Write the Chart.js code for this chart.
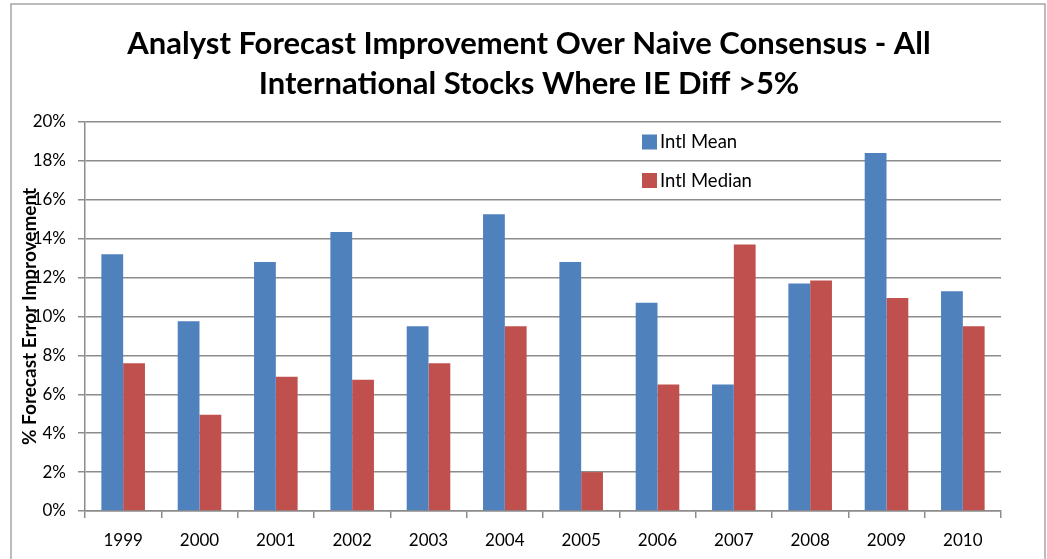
<!DOCTYPE html>
<html>
<head>
<meta charset="utf-8">
<title>Analyst Forecast Improvement</title>
<script src="https://cdn.jsdelivr.net/npm/chart.js@4/dist/chart.umd.min.js"></script>
<style>
  html, body { margin: 0; padding: 0; background: #fff; }
  #wrap { position: relative; width: 1047px; height: 559px; }
</style>
</head>
<body>
<div id="wrap"><canvas id="chart" width="1047" height="559"></canvas></div>
<script>
// years on the x axis
const years = ['1999','2000','2001','2002','2003','2004','2005','2006','2007','2008','2009','2010'];
// % forecast error improvement
const intlMean   = [13.2, 9.75, 12.8, 14.35, 9.5, 15.25, 12.8, 10.7, 6.5, 11.7, 18.4, 11.3];
const intlMedian = [7.6, 4.95, 6.9, 6.75, 7.6, 9.5, 2.0, 6.5, 13.7, 11.85, 10.95, 9.5];
const seriesNames = ['Intl Mean', 'Intl Median'];

const FONT = 'Lato, "Open Sans", "DejaVu Sans", sans-serif';
const GRID = '#8c8c8c';

// outer frame like the spreadsheet chart border
const framePlugin = {
  id: 'frame',
  beforeDraw(chart){
    const c = chart.ctx;
    c.save();
    c.fillStyle = '#fff';
    c.fillRect(0, 0, chart.width, chart.height);
    c.strokeStyle = '#a6a6a6';
    c.lineWidth = 1.5;
    c.strokeRect(11, 4, chart.width - 13, chart.height + 20);
    c.restore();
  }
};

// legend sits inside the plot, top right, stacked
const insideLegend = {
  id: 'insideLegend',
  afterDatasetsDraw(chart){
    const c = chart.ctx;
    c.save();
    c.font = '18.5px ' + FONT;
    c.textBaseline = 'middle';
    c.textAlign = 'left';
    chart.data.datasets.forEach((ds, i) => {
      const cy = 141.5 + i * 38.5;
      c.fillStyle = ds.backgroundColor;
      c.fillRect(642, cy - 7, 15, 15);
      c.fillStyle = '#000';
      c.fillText(ds.label, 660, cy + 1);
    });
    c.restore();
  }
};

new Chart(document.getElementById('chart').getContext('2d'), {
  type: 'bar',
  data: {
    labels: years,
    datasets: [
      { label: seriesNames[0], data: intlMean, backgroundColor: '#4F81BD' },
      { label: seriesNames[1], data: intlMedian, backgroundColor: '#C0504D' }
    ]
  },
  options: {
    responsive: false,
    animation: false,
    layout: { padding: { left: 11, right: 0, top: 0, bottom: 0 } },
    datasets: { bar: { categoryPercentage: 0.571, barPercentage: 1.0 } },
    plugins: {
      legend: { display: false },
      tooltip: { enabled: false },
      title: {
        display: true,
        text: ['Analyst Forecast Improvement Over Naive Consensus - All',
               'International Stocks Where IE Diff >5%'],
        color: '#000',
        font: { family: FONT, size: 31, weight: 'bold', lineHeight: 1.29 },
        padding: { top: 24, bottom: 18 }
      }
    },
    scales: {
      x: {
        afterFit(scale){ scale.height = 48; },
        grid: { display: true, drawOnChartArea: false, drawTicks: true, tickLength: 7, color: GRID, lineWidth: 1.5 },
        border: { color: GRID, width: 1.5 },
        ticks: { color: '#000', font: { family: FONT, size: 17 }, padding: 12, maxRotation: 0 }
      },
      y: {
        min: 0,
        max: 20,
        afterFit(scale){ scale.width = 74; },
        grid: { color: GRID, lineWidth: 1.5, tickLength: 7 },
        border: { color: GRID, width: 1.5 },
        ticks: {
          stepSize: 2,
          color: '#000',
          font: { family: FONT, size: 17 },
          padding: 12,
          callback: v => v + '%'
        },
        title: {
          display: true,
          text: '% Forecast Error Improvement',
          color: '#000',
          font: { family: FONT, size: 19, weight: 'bold' },
          padding: { top: 7, bottom: 0 }
        }
      },
      // empty strip on the right so the plot ends where the original does
      gap: {
        position: 'right',
        afterFit(scale){ scale.width = 46; },
        grid: { display: false },
        border: { display: false },
        ticks: { display: false }
      }
    }
  },
  plugins: [framePlugin, insideLegend]
});
</script>
</body>
</html>
